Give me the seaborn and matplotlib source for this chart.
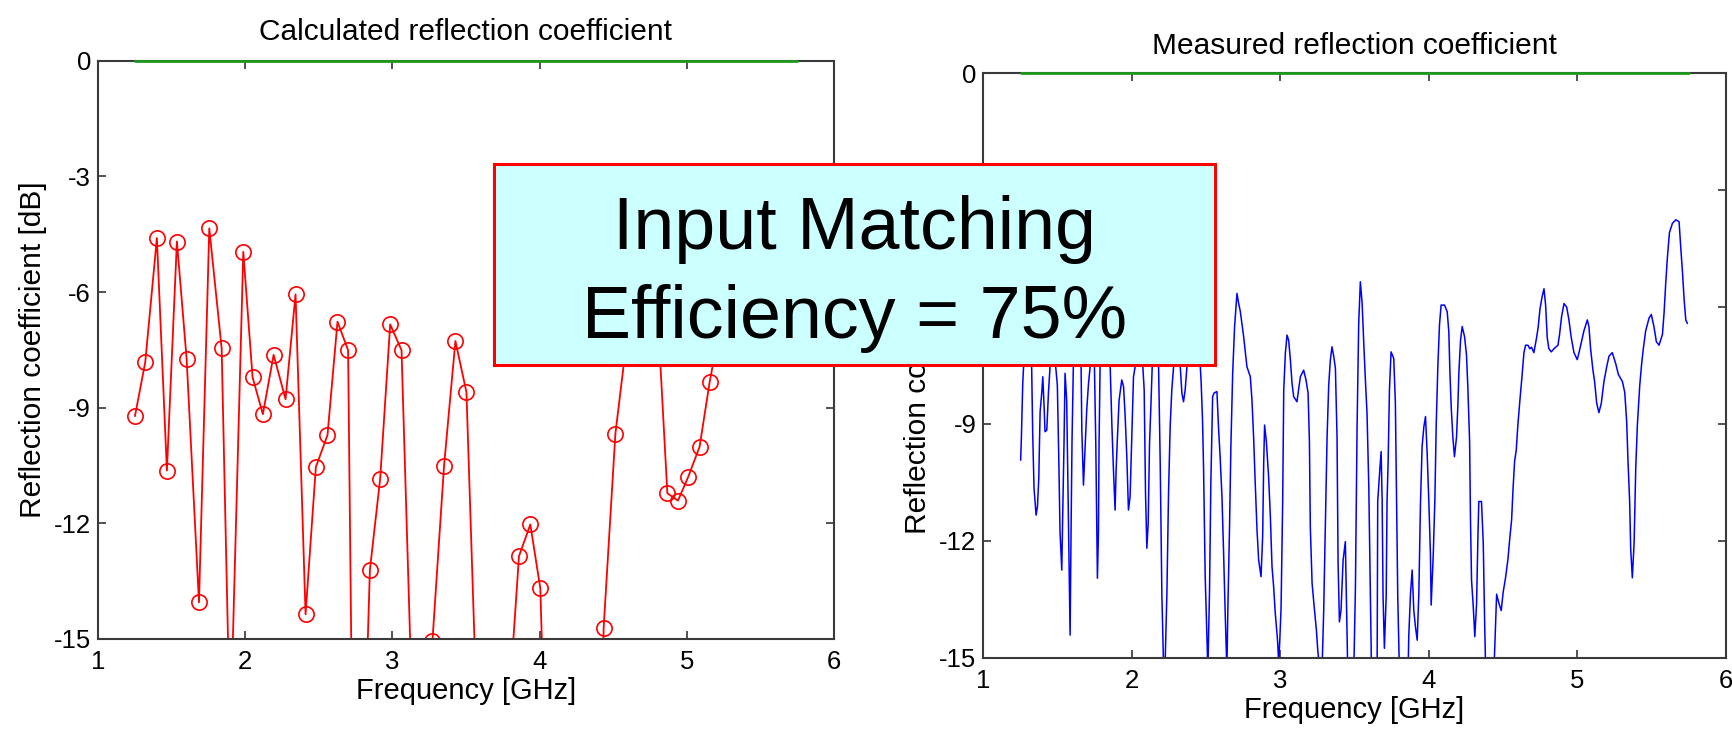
import matplotlib
matplotlib.use("Agg")
import matplotlib.pyplot as plt
from matplotlib.patches import Rectangle
import pandas as pd
import seaborn as sns

# ---------------- data ----------------
calc_freq = [1.251, 1.321, 1.400, 1.468, 1.536, 1.602, 1.686, 1.756, 1.840, 1.898,
             1.987, 2.050, 2.120, 2.193, 2.274, 2.342, 2.410, 2.480, 2.559, 2.627,
             2.699, 2.750, 2.847, 2.917, 2.985, 3.062, 3.135, 3.205, 3.272, 3.351,
             3.428, 3.503, 3.575, 3.645, 3.720, 3.790, 3.860, 3.937, 4.005, 4.078,
             4.150, 4.220, 4.290, 4.365, 4.435, 4.515, 4.590, 4.660, 4.735, 4.808,
             4.868, 4.940, 5.008, 5.087, 5.155, 5.228, 5.300, 5.372, 5.445, 5.518,
             5.590, 5.662, 5.735]
calc_db = [-9.22, -7.82, -4.60, -10.63, -4.69, -7.73, -14.05, -4.35, -7.46, -17.6,
           -4.96, -8.21, -9.17, -7.63, -8.78, -6.06, -14.36, -10.54, -9.71, -6.77,
           -7.51, -25.6, -13.21, -10.84, -6.84, -7.51, -16.9, -19.5, -15.05, -10.50,
           -7.27, -8.60, -17.1, -20.0, -19.0, -16.8, -12.85, -12.03, -13.69, -23.3,
           -26.0, -28.0, -25.0, -30.0, -14.71, -9.67, -7.3, -5.6, -4.8, -7.0,
           -11.22, -11.41, -10.81, -10.01, -8.34, -6.84, -5.5, -4.9, -6.1, -7.0,
           -5.3, -4.6, -6.2]

meas_freq = [
    1.251, 1.256, 1.265, 1.274, 1.292, 1.314, 1.325, 1.332, 1.341, 1.355, 1.364, 1.373,
    1.382, 1.393, 1.400, 1.409, 1.415, 1.427, 1.438, 1.449, 1.467, 1.487, 1.498, 1.508,
    1.516, 1.528, 1.534, 1.543, 1.550, 1.561, 1.573, 1.584, 1.591, 1.597, 1.606, 1.629,
    1.658, 1.663, 1.674, 1.685, 1.696, 1.708, 1.719, 1.732, 1.748, 1.757, 1.764, 1.768,
    1.775, 1.779, 1.786, 1.820, 1.854, 1.865, 1.876, 1.887, 1.894, 1.903, 1.914, 1.932,
    1.944, 1.955, 1.966, 1.977, 1.988, 1.997, 2.011, 2.022, 2.045, 2.074, 2.083, 2.092,
    2.101, 2.110, 2.119, 2.128, 2.137, 2.157, 2.180, 2.191, 2.202, 2.213, 2.224, 2.236,
    2.247, 2.258, 2.269, 2.281, 2.303, 2.326, 2.337, 2.348, 2.359, 2.371, 2.416, 2.461,
    2.467, 2.476, 2.483, 2.494, 2.506, 2.512, 2.523, 2.532, 2.544, 2.555, 2.573, 2.584,
    2.595, 2.607, 2.618, 2.629, 2.640, 2.647, 2.658, 2.667, 2.679, 2.692, 2.708, 2.719,
    2.730, 2.753, 2.775, 2.798, 2.809, 2.820, 2.831, 2.843, 2.854, 2.870, 2.881, 2.888,
    2.894, 2.906, 2.921, 2.933, 2.944, 2.955, 2.966, 2.982, 2.989, 2.996, 3.005, 3.016,
    3.023, 3.034, 3.045, 3.056, 3.067, 3.079, 3.090, 3.112, 3.135, 3.157, 3.173, 3.187,
    3.196, 3.202, 3.214, 3.229, 3.243, 3.252, 3.265, 3.281, 3.292, 3.304, 3.315, 3.326,
    3.337, 3.348, 3.360, 3.371, 3.382, 3.389, 3.398, 3.409, 3.423, 3.438, 3.445, 3.454,
    3.495, 3.506, 3.517, 3.528, 3.539, 3.551, 3.562, 3.573, 3.584, 3.596, 3.607, 3.614,
    3.652, 3.656, 3.670, 3.679, 3.686, 3.692, 3.701, 3.713, 3.719, 3.726, 3.735, 3.746,
    3.764, 3.775, 3.782, 3.791, 3.802, 3.861, 3.865, 3.877, 3.888, 3.899, 3.910, 3.922,
    3.933, 3.944, 3.955, 3.967, 3.978, 3.989, 4.000, 4.011, 4.016, 4.030, 4.041, 4.050,
    4.061, 4.072, 4.083, 4.106, 4.124, 4.135, 4.142, 4.151, 4.162, 4.173, 4.187, 4.196,
    4.203, 4.214, 4.225, 4.241, 4.254, 4.263, 4.275, 4.281, 4.288, 4.299, 4.310, 4.322,
    4.331, 4.337, 4.355, 4.367, 4.376, 4.383, 4.439, 4.457, 4.472, 4.488, 4.501, 4.517,
    4.533, 4.546, 4.558, 4.567, 4.578, 4.589, 4.600, 4.614, 4.627, 4.641, 4.652, 4.668,
    4.681, 4.692, 4.708, 4.726, 4.737, 4.749, 4.764, 4.776, 4.787, 4.798, 4.809, 4.825,
    4.843, 4.870, 4.881, 4.895, 4.911, 4.929, 4.944, 4.960, 4.978, 5.000, 5.018, 5.045,
    5.068, 5.079, 5.090, 5.106, 5.117, 5.131, 5.146, 5.162, 5.180, 5.198, 5.214, 5.236,
    5.259, 5.277, 5.304, 5.320, 5.333, 5.342, 5.353, 5.360, 5.371, 5.383, 5.394, 5.405,
    5.421, 5.434, 5.445, 5.461, 5.484, 5.499, 5.517, 5.533, 5.551, 5.574, 5.585, 5.596,
    5.607, 5.621, 5.641, 5.664, 5.686, 5.697, 5.709, 5.720, 5.731, 5.742]
meas_db = [
    -9.93, -9.33, -7.96, -7.27, -6.59, -7.10, -7.53, -9.24, -10.65, -11.34, -11.12, -10.40,
    -8.69, -8.20, -7.79, -8.56, -9.20, -9.16, -8.21, -7.53, -6.85, -7.53, -8.00, -9.93,
    -11.77, -12.75, -11.38, -9.50, -7.70, -8.39, -11.55, -14.42, -11.55, -9.41, -7.49, -6.85,
    -7.53, -9.16, -10.57, -9.58, -8.64, -7.96, -7.53, -7.10, -7.53, -9.50, -11.77, -12.96,
    -11.77, -9.50, -7.53, -6.59, -7.53, -8.98, -10.18, -11.21, -10.18, -9.33, -8.39, -7.87,
    -8.04, -8.81, -9.84, -11.21, -10.87, -9.67, -7.79, -7.53, -6.93, -7.53, -8.13, -10.78,
    -12.19, -11.55, -9.50, -8.56, -7.53, -6.93, -7.53, -10.01, -13.35, -15.14, -15.14, -13.35,
    -10.78, -9.07, -8.13, -7.53, -7.19, -7.53, -8.21, -8.43, -8.13, -7.53, -6.93, -7.53,
    -7.96, -8.90, -10.14, -12.92, -14.46, -15.32, -13.31, -10.52, -8.30, -8.20, -8.17, -9.11,
    -9.88, -10.87, -12.32, -13.90, -15.32, -13.69, -11.64, -9.58, -7.70, -6.50, -5.65, -5.90,
    -6.10, -6.76, -7.53, -7.79, -8.39, -9.33, -10.52, -11.72, -12.49, -12.92, -11.89, -10.01,
    -9.03, -9.45, -10.35, -11.38, -12.66, -13.18, -13.86, -14.59, -15.15, -14.59, -13.73, -10.95,
    -8.13, -7.19, -6.72, -6.85, -7.32, -7.96, -8.30, -8.43, -7.79, -7.62, -7.87, -8.21,
    -9.45, -11.64, -13.09, -13.73, -14.29, -14.80, -15.32, -15.32, -13.82, -11.47, -9.33, -8.00,
    -7.36, -7.02, -7.27, -7.57, -9.33, -12.54, -14.08, -13.78, -12.49, -12.02, -13.52, -15.32,
    -15.32, -13.18, -9.07, -6.42, -5.35, -5.90, -6.93, -7.87, -8.73, -10.61, -13.61, -15.32,
    -15.32, -10.99, -10.18, -9.71, -10.99, -13.43, -14.76, -13.43, -10.95, -10.01, -8.13, -7.15,
    -7.32, -8.47, -10.70, -13.43, -15.32, -15.32, -14.46, -13.35, -12.75, -13.78, -14.20, -14.55,
    -13.35, -11.04, -9.58, -9.07, -8.81, -9.75, -10.95, -12.32, -13.65, -12.37, -10.95, -9.03,
    -7.53, -6.46, -5.95, -5.95, -6.12, -6.63, -7.62, -8.56, -9.33, -9.84, -9.33, -8.51,
    -7.66, -6.85, -6.50, -6.76, -7.23, -8.04, -9.45, -11.47, -13.01, -13.65, -14.46, -13.61,
    -11.89, -10.99, -10.99, -12.07, -14.03, -15.32, -15.32, -13.37, -13.60, -13.79, -13.32, -12.95,
    -12.48, -11.92, -11.46, -10.71, -9.96, -9.68, -9.03, -8.38, -7.82, -7.17, -6.98, -6.98,
    -7.07, -7.03, -7.17, -6.79, -6.51, -6.05, -5.72, -5.53, -5.95, -6.79, -7.07, -7.15,
    -7.07, -6.98, -6.70, -6.23, -5.91, -6.00, -6.33, -6.79, -7.17, -7.35, -7.07, -6.61,
    -6.33, -6.51, -7.07, -7.63, -7.91, -8.47, -8.71, -8.47, -7.91, -7.54, -7.26, -7.17,
    -7.45, -7.73, -7.91, -8.19, -8.94, -9.96, -10.99, -12.20, -12.95, -12.06, -10.15, -9.03,
    -8.01, -7.45, -7.07, -6.61, -6.28, -6.19, -6.51, -6.89, -6.98, -6.70, -6.14, -5.39,
    -4.74, -4.09, -3.85, -3.76, -3.81, -4.46, -5.11, -5.81, -6.33, -6.42]

ref_freq = [1.25, 5.75]
ref_db = [0.0, 0.0]

x_ticks = [1, 2, 3, 4, 5, 6]
y_ticks = [0, -3, -6, -9, -12, -15]

titles = ["Calculated reflection coefficient", "Measured reflection coefficient"]
x_label = "Frequency [GHz]"
y_label = "Reflection coefficient [dB]"
box_lines = ["Input Matching", "Efficiency = 75%"]

# ---------------- style ----------------
sns.set_theme(style="white")
plt.rcParams["font.family"] = ["Liberation Sans", "DejaVu Sans"]
plt.rcParams["axes.unicode_minus"] = False

W, H = 1733, 731
fig = plt.figure(figsize=(W / 100, H / 100), dpi=100)
fig.patch.set_facecolor("white")


def px_axes(x0, y0, x1, y1):
    return fig.add_axes([x0 / W, 1 - y1 / H, (x1 - x0) / W, (y1 - y0) / H])


ax1 = px_axes(98, 60.7, 834, 639)
ax2 = px_axes(983.4, 73.3, 1725.7, 657.7)

df_calc = pd.DataFrame({"f": calc_freq, "db": calc_db})
df_meas = pd.DataFrame({"f": meas_freq, "db": meas_db})
df_ref = pd.DataFrame({"f": ref_freq, "db": ref_db})

sns.lineplot(data=df_calc, x="f", y="db", ax=ax1, color="#FF0000", lw=1.3,
             marker="o", markersize=11, markerfacecolor="none",
             markeredgecolor="#FF0000", markeredgewidth=1.2,
             estimator=None, sort=False)
sns.lineplot(data=df_meas, x="f", y="db", ax=ax2, color="#0000FF", lw=1.1,
             estimator=None, sort=False)

for ax, title, pad in ((ax1, titles[0], 15), (ax2, titles[1], 14)):
    sns.lineplot(data=df_ref, x="f", y="db", ax=ax, color="#1E9A1E", lw=2.0,
                 estimator=None, sort=False, clip_on=False, zorder=5)
    ax.set_xlim(1, 6)
    ax.set_ylim(-15, 0)
    ax.set_xticks(x_ticks)
    ax.set_yticks(y_ticks)
    ax.set_xticklabels([str(t) for t in x_ticks])
    ax.set_yticklabels([str(t) for t in y_ticks])
    ax.tick_params(axis="both", which="both", direction="in", length=6, width=1.2,
                   colors="#333333", labelcolor="black", labelsize=18.5,
                   bottom=True, left=True, top=True, right=True)
    ax.tick_params(axis="x", pad=8)
    ax.tick_params(axis="y", pad=5)
    for s in ax.spines.values():
        s.set_visible(True)
        s.set_color("#3a3a3a")
        s.set_linewidth(1.5)
    ax.set_title(title, fontsize=21.5, pad=pad, color="black")
    ax.set_xlabel(x_label, fontsize=21, labelpad=2, color="black")
    ax.set_ylabel(y_label, fontsize=21.5, labelpad=5, color="black")
    ax.grid(False)
    ax.set_facecolor("white")

# ---------------- overlay box ----------------
bx0, by0, bx1, by1 = 494, 164, 1215, 365
rect = Rectangle((bx0 / W, 1 - by1 / H), (bx1 - bx0) / W, (by1 - by0) / H,
                 transform=fig.transFigure, facecolor="#CCFFFF", edgecolor="#FF0000",
                 linewidth=2.2, zorder=10)
fig.add_artist(rect)
cx = (bx0 + bx1) / 2 / W
fig.text(cx, 1 - 248.5 / H, box_lines[0], ha="center", va="baseline",
         fontsize=53, color="black", zorder=11)
fig.text(cx, 1 - 338.3 / H, box_lines[1], ha="center", va="baseline",
         fontsize=53, color="black", zorder=11)

fig.savefig("out.png", dpi=100, facecolor="white")
